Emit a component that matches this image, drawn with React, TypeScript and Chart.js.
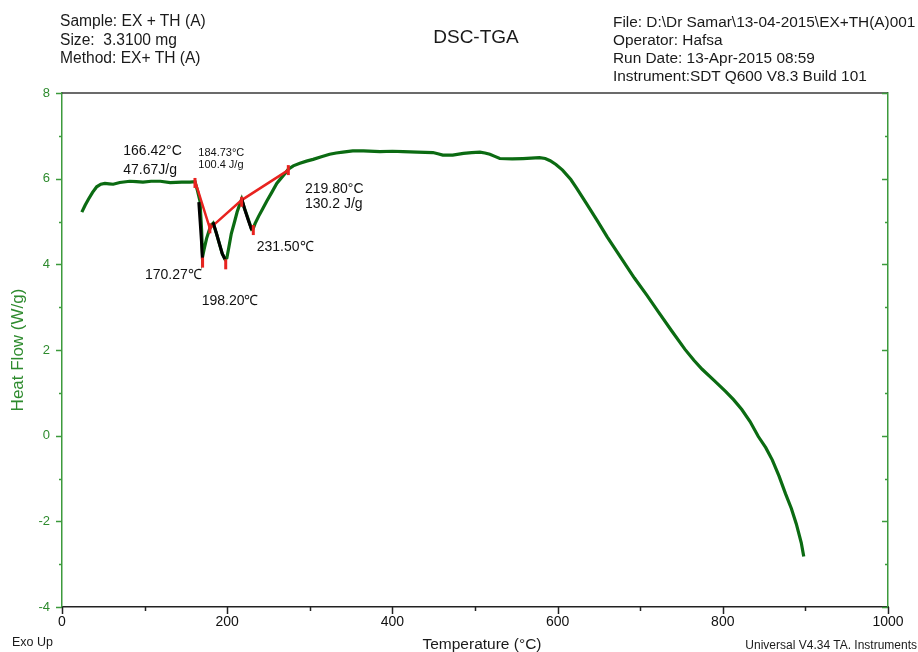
import React, { useEffect, useRef } from 'react';
import { Chart, registerables } from 'chart.js';

Chart.register(...registerables);

// ---- Data ----
const curveX = [24, 28, 32, 37, 42, 47, 52, 57, 62, 70, 82, 90, 98, 108, 119, 131, 145, 155, 161, 164, 167, 169, 170.2, 172, 175, 178.3, 181, 183, 187, 191, 194, 197.3, 199.6, 202, 205, 209, 212, 215.5, 217.5, 221, 225, 229.6, 231.6, 233.7, 238, 243, 248, 254, 260, 266, 270, 274, 280, 288, 296, 304, 314, 324, 332, 340, 352, 365, 385, 400, 413, 430, 449, 455, 461, 473, 486, 496, 506, 512, 518, 524, 530, 545, 558, 568, 578, 585, 591, 598, 606, 616, 623, 635, 648, 660, 673, 683, 693, 708, 722, 738, 754, 765, 775, 790, 803, 813, 823, 833, 843, 852, 860, 868, 876, 883, 889, 895, 898];
const curveY = [5.22, 5.38, 5.52, 5.68, 5.81, 5.87, 5.89, 5.88, 5.87, 5.91, 5.94, 5.93, 5.92, 5.94, 5.94, 5.91, 5.92, 5.92, 5.93, 5.72, 5.48, 4.8, 4.18, 4.35, 4.6, 4.8, 4.92, 4.96, 4.72, 4.45, 4.25, 4.12, 4.15, 4.4, 4.72, 5.0, 5.22, 5.42, 5.52, 5.3, 5.08, 4.82, 4.84, 4.95, 5.12, 5.3, 5.48, 5.68, 5.89, 6.03, 6.12, 6.22, 6.3, 6.36, 6.41, 6.45, 6.51, 6.57, 6.6, 6.62, 6.65, 6.65, 6.63, 6.64, 6.63, 6.62, 6.61, 6.58, 6.55, 6.55, 6.59, 6.61, 6.62, 6.6, 6.57, 6.52, 6.47, 6.46, 6.47, 6.48, 6.49, 6.47, 6.42, 6.33, 6.2, 5.98, 5.78, 5.42, 5.02, 4.64, 4.26, 3.97, 3.68, 3.28, 2.89, 2.45, 2.02, 1.76, 1.55, 1.28, 1.04, 0.84, 0.61, 0.33, -0.02, -0.28, -0.57, -0.94, -1.36, -1.7, -2.06, -2.5, -2.82];

// Descending portions of the peaks (drawn in black)
const drop1X = [165.6, 167.2, 168.8, 170.0];
const drop1Y = [5.45, 5.0, 4.55, 4.12];
const drop2X = [183, 187, 191, 194, 197.3];
const drop2Y = [4.98, 4.72, 4.45, 4.25, 4.12];
const drop3X = [217.5, 221, 225, 229.6];
const drop3Y = [5.54, 5.3, 5.06, 4.8];

// Integration baselines (red)
const baselineX = [161, 179, 217.5, 274];
const baselineY = [5.95, 4.84, 5.5, 6.2];

// Red limit / peak markers
const markerX = [161, 179, 170.2, 198.2, 217.5, 231.6, 274];
const markerY = [5.9, 4.84, 4.04, 4.0, 5.46, 4.8, 6.2];

// Peak annotation texts
const noteTexts = ['166.42°C', '47.67J/g', '184.73°C', '100.4 J/g', '219.80°C', '130.2 J/g', '231.50℃', '170.27℃', '198.20℃'];
const noteX = [74.2, 74.2, 165.0, 165.0, 294.2, 294.2, 235.7, 100.5, 169.1];
const noteY = [6.646, 6.2, 6.61, 6.32, 5.76, 5.41, 4.41, 3.75, 3.13];
const noteSize = [14, 14, 11, 11, 14, 14, 14, 14, 14];

const xMin = 0;
const xMax = 1000;
const xLabelStep = 200;
const xMinorStep = 100;
const yMin = -4;
const yMax = 8;
const yLabelStep = 2;
const yMinorStep = 1;

const FONT = '"Liberation Sans", Arial, Helvetica, sans-serif';
const GREEN_AXIS = '#3c9a3c';
const GREEN_TEXT = '#2e8b2e';
const CURVE_GREEN = '#0b6b12';
const RED = '#e8231f';

const toPts = (xs: number[], ys: number[]) => xs.map((x, i) => ({ x, y: ys[i] }));

const decorPlugin = {
  id: 'decor',
  afterDraw(chart: any) {
    const { ctx, chartArea, scales } = chart;
    const { left, right, top, bottom } = chartArea;
    const xs = scales.x;
    const ys = scales.y;
    ctx.save();
    // top frame line
    ctx.strokeStyle = '#3a3a3a';
    ctx.lineWidth = 1.5;
    ctx.beginPath();
    ctx.moveTo(left, top);
    ctx.lineTo(right, top);
    ctx.stroke();
    // y ticks (left outward, right inward)
    ctx.strokeStyle = GREEN_AXIS;
    ctx.lineWidth = 1.5;
    for (let v = yMin; v <= yMax; v += yMinorStep) {
      const py = Math.round(ys.getPixelForValue(v)) + 0.5;
      const len = v % yLabelStep === 0 ? 6 : 3;
      ctx.beginPath();
      ctx.moveTo(left - len, py);
      ctx.lineTo(left, py);
      ctx.moveTo(right - len, py);
      ctx.lineTo(right, py);
      ctx.stroke();
    }
    // x ticks (downward)
    ctx.strokeStyle = '#222';
    for (let v = xMin; v <= xMax; v += xMinorStep) {
      const px = Math.round(xs.getPixelForValue(v)) + 0.5;
      const len = v % xLabelStep === 0 ? 7 : 4;
      ctx.beginPath();
      ctx.moveTo(px, bottom);
      ctx.lineTo(px, bottom + len);
      ctx.stroke();
    }
    // annotations
    ctx.fillStyle = '#111';
    ctx.textAlign = 'left';
    ctx.textBaseline = 'middle';
    noteTexts.forEach((t, i) => {
      ctx.font = `${noteSize[i]}px ${FONT}`;
      ctx.fillText(t, xs.getPixelForValue(noteX[i]), ys.getPixelForValue(noteY[i]));
    });
    ctx.restore();
  },
};

function DscChart() {
  const ref = useRef<HTMLCanvasElement | null>(null);
  useEffect(() => {
    if (!ref.current) return;
    const lineDs = (data: any, color: string, width: number, order: number) => ({
      data,
      showLine: true,
      borderColor: color,
      backgroundColor: color,
      borderWidth: width,
      pointRadius: 0,
      tension: 0,
      fill: false,
      order,
    });
    const chart = new Chart(ref.current, {
      type: 'scatter',
      data: {
        datasets: [
          lineDs(toPts(curveX, curveY), CURVE_GREEN, 3.2, 4),
          lineDs(toPts(baselineX, baselineY), RED, 2.5, 3),
          lineDs(toPts(drop1X, drop1Y), '#000', 3, 2),
          lineDs(toPts(drop2X, drop2Y), '#000', 3, 2),
          lineDs(toPts(drop3X, drop3Y), '#000', 3, 2),
          {
            data: toPts(markerX, markerY),
            showLine: false,
            pointStyle: 'line',
            rotation: 90,
            pointRadius: 5,
            borderColor: RED,
            backgroundColor: RED,
            pointBorderWidth: 3,
            borderWidth: 3,
            order: 1,
          } as any,
        ],
      },
      options: {
        responsive: false,
        animation: false,
        devicePixelRatio: 1,
        layout: { padding: { top: 93, left: 0, right: 0, bottom: 0 } },
        plugins: {
          legend: { display: false },
          tooltip: { enabled: false },
          title: { display: false },
        },
        scales: {
          x: {
            type: 'linear',
            position: 'bottom',
            min: xMin,
            max: xMax,
            grid: { display: false, drawTicks: false },
            border: { color: '#222', width: 1.5 },
            ticks: {
              stepSize: xLabelStep,
              color: '#111',
              font: { family: FONT, size: 14 },
              padding: 7,
              maxRotation: 0,
              autoSkip: false,
              callback: (v: any) => String(v),
            },
            afterFit: (s: any) => { s.height = 45; },
          },
          y: {
            type: 'linear',
            position: 'left',
            min: yMin,
            max: yMax,
            grid: { display: false, drawTicks: false },
            border: { color: GREEN_AXIS, width: 1.5 },
            ticks: {
              stepSize: yLabelStep,
              color: GREEN_TEXT,
              font: { family: FONT, size: 13 },
              padding: 12,
            },
            title: {
              display: true,
              text: 'Heat Flow (W/g)',
              color: GREEN_TEXT,
              font: { family: FONT, size: 17 },
              padding: { top: 8, bottom: 0 },
            },
            afterFit: (s: any) => { s.width = 62; },
          },
          y2: {
            type: 'linear',
            position: 'right',
            display: true,
            min: yMin,
            max: yMax,
            grid: { display: false, drawTicks: false },
            border: { color: GREEN_AXIS, width: 1.5 },
            ticks: { display: false },
            afterFit: (s: any) => { s.width = 30; },
          },
        } as any,
      },
      plugins: [decorPlugin],
    });
    return () => chart.destroy();
  }, []);
  return <canvas ref={ref} width={918} height={652} style={{ position: 'absolute', left: 0, top: 0, width: 918, height: 652 }} />;
}

const txt = (extra: React.CSSProperties): React.CSSProperties => ({
  position: 'absolute',
  fontFamily: FONT,
  color: '#1a1a1a',
  whiteSpace: 'nowrap',
  margin: 0,
  ...extra,
});

export default function App() {
  return (
    <div style={{ position: 'absolute', left: 0, top: 0, width: 918, height: 652, background: '#fff', overflow: 'hidden' }}>
      <DscChart />
      <div style={txt({ left: 60, top: 12, fontSize: 15.6, lineHeight: '18.5px' })}>
        <div>Sample: EX + TH (A)</div>
        <div>Size:&nbsp; 3.3100 mg</div>
        <div>Method: EX+ TH (A)</div>
      </div>
      <div style={txt({ left: 0, width: 952, top: 25, fontSize: 19, lineHeight: '24px', textAlign: 'center' })}>DSC-TGA</div>
      <div style={txt({ left: 613, top: 13, fontSize: 15.4, lineHeight: '18px' })}>
        <div>File: D:\Dr Samar\13-04-2015\EX+TH(A)001</div>
        <div>Operator: Hafsa</div>
        <div>Run Date: 13-Apr-2015 08:59</div>
        <div>Instrument:SDT Q600 V8.3 Build 101</div>
      </div>
      <div style={txt({ left: 12, top: 634, fontSize: 12.5, lineHeight: '16px' })}>Exo Up</div>
      <div style={txt({ left: 382, width: 200, top: 634, fontSize: 15.5, lineHeight: '20px', textAlign: 'center' })}>Temperature (°C)</div>
      <div style={txt({ right: 1, top: 638, fontSize: 12, lineHeight: '15px' })}>Universal V4.34 TA. Instruments</div>
    </div>
  );
}
